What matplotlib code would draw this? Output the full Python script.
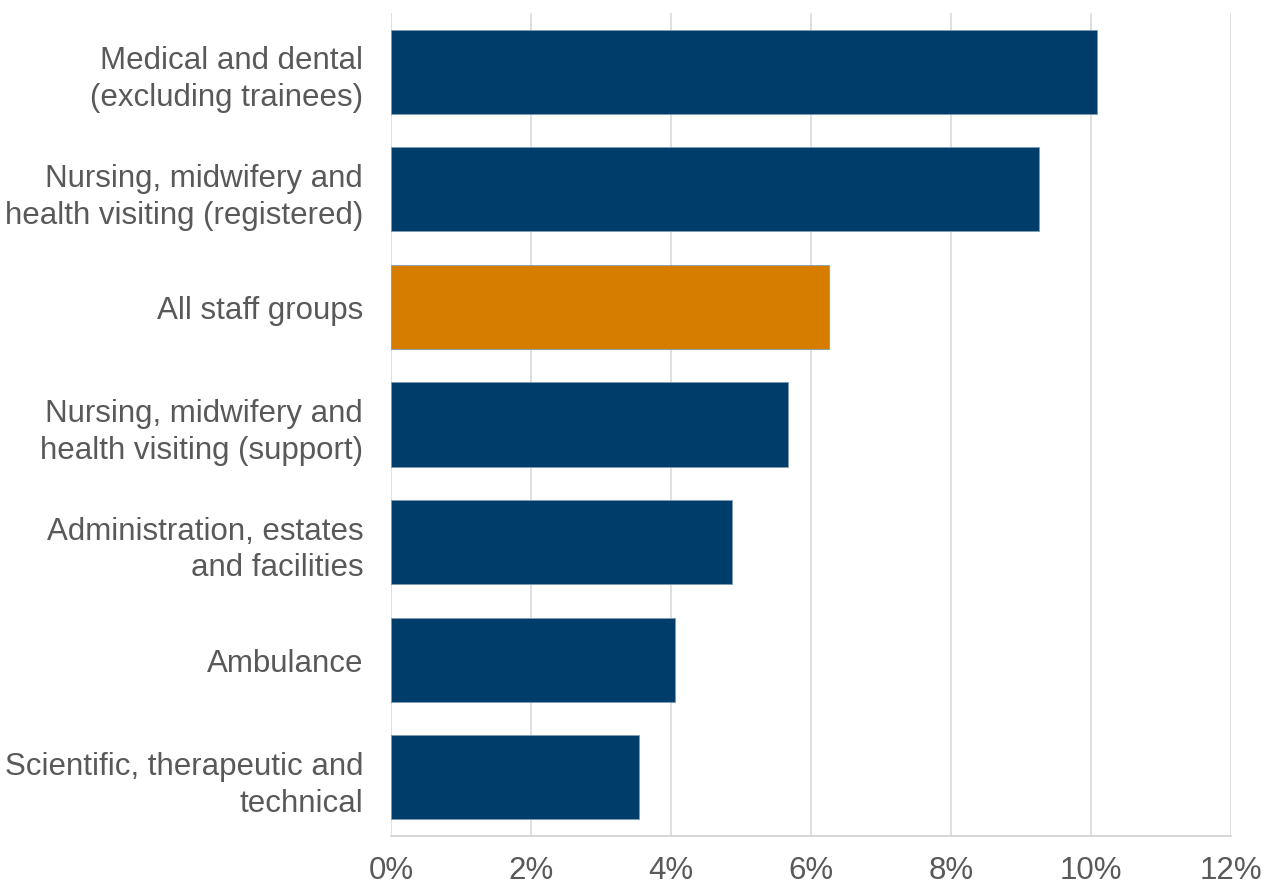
import matplotlib.pyplot as plt
from matplotlib.ticker import FuncFormatter

plt.rcParams['font.family'] = ['Liberation Sans', 'DejaVu Sans']

groups = [
    "Medical and dental\n(excluding trainees)",
    "Nursing, midwifery and\nhealth visiting (registered)",
    "All staff groups",
    "Nursing, midwifery and\nhealth visiting (support)",
    "Administration, estates\nand facilities",
    "Ambulance",
    "Scientific, therapeutic and\ntechnical",
]
rates = [10.09, 9.26, 6.26, 5.67, 4.87, 4.06, 3.54]
highlight = "All staff groups"

navy = "#003d6b"
orange = "#d67d00"
text_col = "#595959"

fig = plt.figure(figsize=(12.72, 8.87), dpi=100)
ax = fig.add_axes([0.3074, 0.0564, 0.6604, 0.9278])

colors = [orange if g == highlight else navy for g in groups]
ypos = list(range(len(groups)))
ax.barh(ypos, rates, height=0.715, color=colors, edgecolor="#7f9bb3",
        linewidth=0.6, zorder=3)

ax.set_ylim(len(groups) - 0.5, -0.5)
ax.set_xlim(0, 12)
ax.set_xticks(range(0, 13, 2))
ax.xaxis.set_major_formatter(FuncFormatter(lambda v, _: f"{v:.0f}%"))
ax.set_yticks(ypos)
ax.set_yticklabels(groups, linespacing=1.3)

ax.grid(axis="x", color="#d9d9d9", linewidth=1.2, zorder=0)
for s in ["top", "right", "left"]:
    ax.spines[s].set_visible(False)
ax.spines["bottom"].set_color("#d0d0d0")
ax.spines["bottom"].set_linewidth(1.2)

ax.tick_params(axis="y", length=0, pad=20, labelsize=22.5, labelcolor=text_col)
ax.tick_params(axis="x", length=0, pad=14, labelsize=22.5, labelcolor=text_col)

fig.savefig("out.png", dpi=100)
